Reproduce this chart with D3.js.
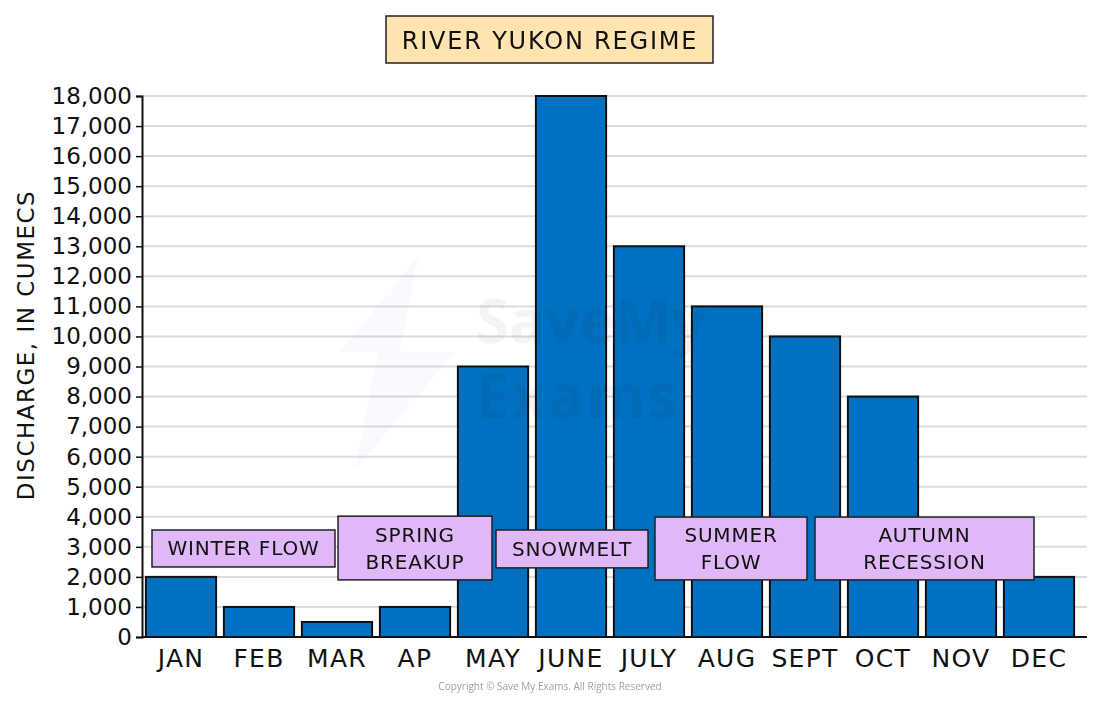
<!DOCTYPE html>
<html>
<head>
<meta charset="utf-8">
<script src="https://cdn.jsdelivr.net/npm/d3@7"></script>
<style>
  body { margin: 0; background: #fff; }
  svg text { font-family: "DejaVu Sans", Verdana, sans-serif; }
  svg text.copy { font-family: "Open Sans", sans-serif; }
  svg text.wm { font-family: "Open Sans", sans-serif; }
</style>
</head>
<body>
<div id="chart"></div>
<script>
// data
const months = ["JAN", "FEB", "MAR", "AP", "MAY", "JUNE", "JULY", "AUG", "SEPT", "OCT", "NOV", "DEC"];
const discharge = [2000, 1000, 500, 1000, 9000, 18000, 13000, 11000, 10000, 8000, 3000, 2000];
const yTicks = d3.range(0, 18001, 1000);
const phaseLabels = [["WINTER FLOW"], ["SPRING", "BREAKUP"], ["SNOWMELT"], ["SUMMER", "FLOW"], ["AUTUMN", "RECESSION"]];

let
  width = 1100,
  height = 704,
  margin = {top: 96, right: 13, bottom: 67, left: 142};

let svg = d3.select("#chart").append("svg")
  .attr("width", width)
  .attr("height", height);

let x = d3.scaleBand()
  .domain(months)
  .range([margin.left, 1078])
  .paddingInner(0.1)
  .paddingOuter(0.05);

let y = d3.scaleLinear()
  .domain([0, 18000])
  .range([height - margin.bottom, margin.top]);

/* gridlines */
svg.append("g").selectAll("line")
  .data(yTicks.slice(1))
  .enter().append("line")
  .attr("x1", margin.left)
  .attr("x2", width - margin.right)
  .attr("y1", d => y(d))
  .attr("y2", d => y(d))
  .attr("stroke", "#dcdcdc")
  .attr("stroke-width", 2);

/* bars */
svg.append("g").selectAll("rect")
  .data(discharge)
  .enter().append("rect")
  .attr("x", (d, i) => x(months[i]))
  .attr("y", d => y(d))
  .attr("width", x.bandwidth())
  .attr("height", d => y(0) - y(d))
  .attr("fill", "#0070c0")
  .attr("stroke", "#111")
  .attr("stroke-width", 2);

/* watermark, faint over the bars */
let wm = svg.append("g").attr("opacity", 0.045);
wm.append("path")
  .attr("d", "M418,256 L340,352 L378,352 L355,470 L455,352 L400,352 Z")
  .attr("fill", "#3b6cff")
  .attr("opacity", 0.7);
wm.append("text").attr("class", "wm").attr("x", 476).attr("y", 343)
  .style("font-size", "60px").style("font-weight", "bold").style("letter-spacing", "0px")
  .attr("fill", "#000").text("SaveMy");
wm.append("text").attr("class", "wm").attr("x", 476).attr("y", 418)
  .style("font-size", "60px").style("font-weight", "bold").style("letter-spacing", "2px")
  .attr("fill", "#000").text("Exams");

/* y axis */
let yAxis = svg.append("g")
  .attr("transform", "translate(" + margin.left + ",0)")
  .call(d3.axisLeft(y).tickValues(yTicks).tickFormat(d3.format(",")).tickSize(6).tickPadding(4));
yAxis.attr("font-family", null);
yAxis.select(".domain").attr("stroke", "#111").attr("stroke-width", 2);
yAxis.selectAll(".tick line").attr("stroke", "#111").attr("stroke-width", 1.5);
yAxis.selectAll("text").style("font-size", "23px").attr("fill", "#111");

/* x axis */
let xAxis = svg.append("g")
  .attr("transform", "translate(0," + y(0) + ")")
  .call(d3.axisBottom(x).tickSize(0).tickPadding(12));
xAxis.attr("font-family", null);
xAxis.select(".domain").attr("d", "M" + margin.left + ",0H" + (width - margin.right))
  .attr("stroke", "#111").attr("stroke-width", 2);
xAxis.selectAll("text").style("font-size", "25px").style("letter-spacing", "1.3px").attr("fill", "#111");

/* y axis title */
svg.append("text")
  .attr("transform", "translate(34,345) rotate(-90)")
  .attr("text-anchor", "middle")
  .style("font-size", "23px")
  .style("letter-spacing", "1.5px")
  .attr("fill", "#111")
  .text("DISCHARGE, IN CUMECS");

/* title */
svg.append("rect")
  .attr("x", 386).attr("y", 16).attr("width", 327).attr("height", 47)
  .attr("fill", "#ffe3b1").attr("stroke", "#222").attr("stroke-width", 1.5);
svg.append("text")
  .attr("x", 550).attr("y", 49)
  .attr("text-anchor", "middle")
  .style("font-size", "24px")
  .style("letter-spacing", "1.8px")
  .attr("fill", "#111")
  .text("RIVER YUKON REGIME");

/* phase boxes */
let boxes = [
  {x0: 152, x1: 335, top: 3560, bottom: 2330},
  {x0: 338, x1: 492, top: 4020, bottom: 1900},
  {x0: 496, x1: 648, top: 3560, bottom: 2300},
  {x0: 655, x1: 807, top: 3990, bottom: 1900},
  {x0: 815, x1: 1034, top: 3990, bottom: 1900}
];
let phase = svg.append("g").selectAll("g")
  .data(phaseLabels)
  .enter().append("g");
phase.append("rect")
  .attr("x", (d, i) => boxes[i].x0)
  .attr("y", (d, i) => y(boxes[i].top))
  .attr("width", (d, i) => boxes[i].x1 - boxes[i].x0)
  .attr("height", (d, i) => y(boxes[i].bottom) - y(boxes[i].top))
  .attr("fill", "#e0b7f7")
  .attr("stroke", "#222")
  .attr("stroke-width", 1.5);
phase.each(function(lines, i) {
  let b = boxes[i];
  let cy = (y(b.top) + y(b.bottom)) / 2;
  lines.forEach((t, j) => {
    d3.select(this).append("text")
      .attr("x", (b.x0 + b.x1) / 2)
      .attr("y", cy + 7 + (j - (lines.length - 1) / 2) * 27)
      .attr("text-anchor", "middle")
      .style("font-size", "20px")
      .style("letter-spacing", "0.8px")
      .attr("fill", "#111")
      .text(t);
  });
});

/* copyright */
svg.append("text")
  .attr("class", "copy")
  .attr("x", 550).attr("y", 690)
  .attr("text-anchor", "middle")
  .style("font-size", "10px")
  .attr("fill", "#a0a0a0")
  .text("Copyright © Save My Exams. All Rights Reserved");
</script>
</body>
</html>
